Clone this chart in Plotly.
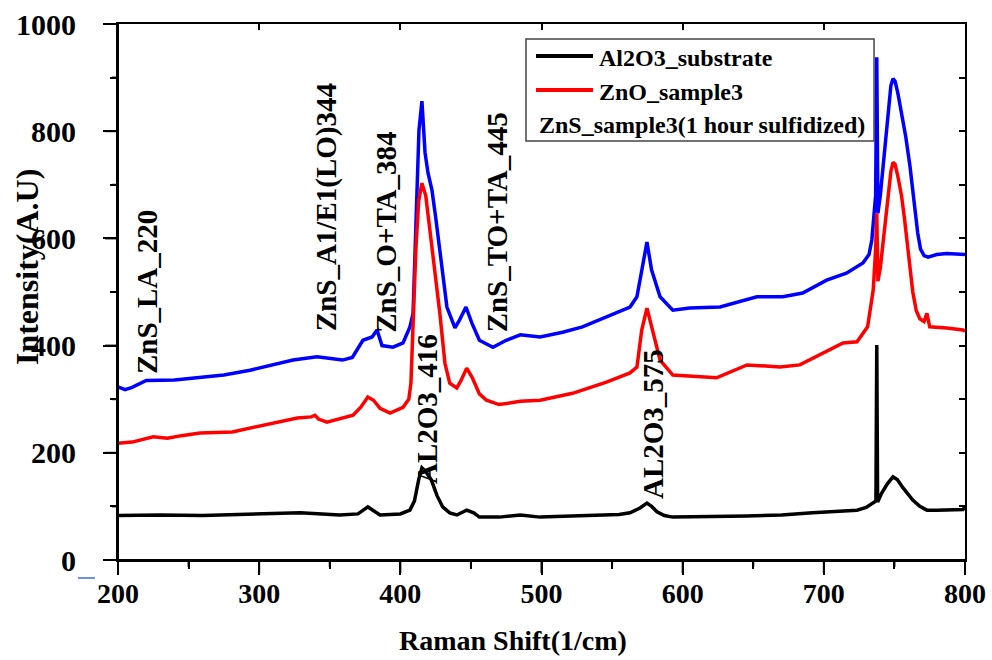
import plotly.graph_objects as go

# ---------------- data ----------------
al2o3_x = [200, 230, 260, 300, 329, 357, 370, 377, 385.6, 400, 406.8, 410, 413, 415.3, 418, 422, 426, 430,
           435, 440, 447, 452, 456, 470, 485, 499, 520, 536, 555, 562.7, 569.8, 574.7, 578, 581.8, 587, 593,
           605, 620, 645.6, 670, 692, 710, 723.5, 730, 734, 736.9, 737.5, 738.1, 741, 745, 749, 752, 756,
           763, 768, 773, 780, 790, 798.6, 800]
al2o3_y = [83, 84, 83, 85, 88, 84, 86, 99, 84, 86, 93, 110, 150, 172, 165, 149, 120, 99,
           88, 84, 93, 88, 80, 80, 84, 80, 82, 84, 85, 88, 97, 106, 100, 90, 83, 80,
           80, 81, 82, 84, 88, 90, 93, 98, 106, 110, 401, 108, 125, 142, 155, 150, 135,
           112, 100, 93, 93, 93, 94, 100]

zno_x = [200, 210, 225, 235, 245, 258, 281, 305.5, 327, 337, 339.5, 342, 348, 366.5, 372, 377, 381, 385.6,
         392.7, 401.9, 406, 407.5, 409, 411, 413, 415.3, 418, 422.4, 428, 431.6, 435, 440, 443, 447, 451,
         456, 461, 470, 485, 499, 522, 546, 562.7, 567.6, 571, 574.7, 579, 584, 593, 605, 624, 645.6, 669,
         683, 699, 713.6, 723.5, 731, 735, 736.7, 737.5, 738.3, 740, 743, 745.5, 747.5, 749, 750.5, 752.5,
         755, 757, 759, 761, 763, 765.5, 768, 771, 773, 775, 787, 798.6, 800]
zno_y = [218, 220, 230, 227, 232, 237, 239, 252, 265, 267, 270, 263, 257, 270, 285, 304, 298, 283,
         274, 285, 300, 330, 450, 580, 670, 703, 680, 584, 460, 367, 330, 321, 335, 358, 340,
         310, 298, 290, 296, 298, 311, 332, 349, 360, 429, 470, 423, 373, 345, 343, 340, 364, 360,
         364, 386, 405, 407, 435, 504, 580, 647, 520, 545, 615, 685, 725, 742, 738, 715,
         680, 640, 595, 545, 500, 465, 450, 445, 460, 435, 433, 429, 427]

zns_x = [200, 205, 210, 220, 240, 258, 275, 293.5, 310, 324, 341, 359, 366, 373.5, 380, 383.5, 387, 394.8,
         401.9, 406.8, 409, 411.8, 413.2, 415.3, 417.5, 419.6, 422.4, 425, 428, 433, 438.7, 442, 446.5,
         450.7, 456, 465.6, 475, 485, 499, 515, 529, 541, 562.7, 567.6, 572, 574.7, 578, 584, 593, 605,
         626.5, 652.6, 671, 685, 702, 716, 727.7, 732, 734, 736.7, 737.5, 738.3, 740, 743, 745.5, 747.5,
         749, 750.5, 752.5, 755, 758, 761, 764, 766.5, 768.5, 771, 773.8, 780, 787, 798.6, 800]
zns_y = [323, 318, 322, 335, 336, 341, 345, 354, 365, 373, 379, 373, 378, 410, 416, 429, 400, 397,
         405, 435, 460, 709, 802, 856, 760, 722, 690, 640, 573, 472, 433, 448, 472,
         442, 410, 397, 410, 420, 416, 425, 435, 448, 472, 491, 560, 593, 541, 491, 466, 470,
         472, 491, 491, 498, 522, 535, 554, 570, 597, 680, 938, 647, 680, 760, 840, 885,
         898, 893, 870, 835, 790, 735, 665, 610, 580, 568, 565, 570, 572, 569, 570]

series_names = ["Al2O3_substrate", "ZnO_sample3", "ZnS_sample3(1 hour sulfidized)"]

peak_labels = ["ZnS_LA_220", "ZnS_A1/E1(LO)344", "ZnS_O+TA_384", "ZnS_TO+TA_445", "AL2O3_416", "AL2O3_575"]
peak_label_x = [220.5, 347.3, 389.8, 468.5, 418.9, 579.0]
peak_label_y = [343, 423, 421, 421, 138, 110]

x_ticks = [200, 300, 400, 500, 600, 700, 800]
y_ticks = [0, 200, 400, 600, 800, 1000]
x_title = "Raman Shift(1/cm)"
y_title = "Intensity(A.U)"

FONT = "Liberation Serif"

fig = go.Figure()
fig.add_trace(go.Scatter(x=zns_x, y=zns_y, mode="lines", name=series_names[2],
                         line=dict(color="#0000ff", width=3.5), showlegend=False))
fig.add_trace(go.Scatter(x=al2o3_x, y=al2o3_y, mode="lines", name=series_names[0],
                         line=dict(color="#000000", width=3.5), showlegend=False))
fig.add_trace(go.Scatter(x=zno_x, y=zno_y, mode="lines", name=series_names[1],
                         line=dict(color="#ff0000", width=3.5), showlegend=False))
# empty helper traces so that the top/right frame axes (inside ticks) are drawn
for xa, ya in [("x2", "y"), ("x", "y2")]:
    fig.add_trace(go.Scatter(x=[None], y=[None], xaxis=xa, yaxis=ya, showlegend=False,
                             hoverinfo="skip"))

# peak annotations
for txt, xv, yv in zip(peak_labels, peak_label_x, peak_label_y):
    fig.add_annotation(x=xv, y=yv, xref="x", yref="y", text=txt, showarrow=False,
                       textangle=-90, xanchor="center", yanchor="bottom",
                       font=dict(family=FONT, size=29, color="black", weight="bold"))

# axis titles (placed like the reference, slightly off-centre)
fig.add_annotation(x=0.4663, y=-0.1493, xref="paper", yref="paper", text=x_title, showarrow=False,
                   xanchor="center", yanchor="middle",
                   font=dict(family=FONT, size=28, color="black", weight="bold"))
fig.add_annotation(x=-0.1074, y=0.5466, xref="paper", yref="paper", text=y_title, showarrow=False,
                   textangle=-90, xanchor="center", yanchor="middle",
                   font=dict(family=FONT, size=32, color="black", weight="bold"))

# ---------------- bottom / left frame with outside ticks (drawn on top) ----------------
PLOT_W, PLOT_H = 847.0, 536.0
frame_line = dict(color="black", width=2)
fig.add_shape(type="line", xref="paper", yref="paper", layer="above",
              x0=0, x1=1, y0=0, y1=0, line=frame_line)
fig.add_shape(type="line", xref="paper", yref="paper", layer="above",
              x0=0, x1=0, y0=0, y1=1, line=frame_line)
x_step = (x_ticks[1] - x_ticks[0]) / 2
n_x = int(round((x_ticks[-1] - x_ticks[0]) / x_step))
for i in range(n_x + 1):
    xv = x_ticks[0] + i * x_step
    ln = 13 if i % 2 == 0 else 7
    fig.add_shape(type="line", xref="x", yref="paper", layer="above",
                  x0=xv, x1=xv, y0=0, y1=-ln / PLOT_H, line=frame_line)
y_step = (y_ticks[1] - y_ticks[0]) / 2
n_y = int(round((y_ticks[-1] - y_ticks[0]) / y_step))
for i in range(n_y + 1):
    yv = y_ticks[0] + i * y_step
    ln = 13 if i % 2 == 0 else 6
    fig.add_shape(type="line", xref="paper", yref="y", layer="above",
                  x0=0, x1=-ln / PLOT_W, y0=yv, y1=yv, line=frame_line)

# ---------------- manual legend ----------------
L = dict(x0=0.4817, x1=0.8926, y0=0.7817, y1=0.972)
fig.add_shape(type="rect", xref="paper", yref="paper", layer="above",
              x0=L["x0"], x1=L["x1"], y0=L["y0"], y1=L["y1"],
              fillcolor="white", line=dict(color="#444444", width=1.5))
legend_line_colors = ["#000000", "#ff0000"]
legend_line_y = [0.9403, 0.8769]
for c, yy in zip(legend_line_colors, legend_line_y):
    fig.add_shape(type="line", xref="paper", yref="paper", layer="above",
                  x0=0.4935, x1=0.5608, y0=yy, y1=yy, line=dict(color=c, width=4))
legend_text_x = [0.5655, 0.5655, 0.4947]
legend_text_y = [0.9366, 0.8731, 0.8116]
for txt, xx, yy in zip(series_names, legend_text_x, legend_text_y):
    fig.add_annotation(x=xx, y=yy, xref="paper", yref="paper", text=txt, showarrow=False,
                       xanchor="left", yanchor="middle",
                       font=dict(family=FONT, size=24, color="black", weight="bold"))

# small blue underline below the "0" tick label (present in the reference)
fig.add_shape(type="line", xref="paper", yref="paper", x0=-0.0472, x1=-0.0272,
              y0=-0.0336, y1=-0.0336, line=dict(color="#3a6fd8", width=1.5))

common = dict(showgrid=False, zeroline=False, showline=True, linecolor="black", linewidth=2,
              tickcolor="black", tickwidth=2, automargin=False, layer="above traces",
              fixedrange=True)
xr = [x_ticks[0], x_ticks[-1]]
yr = [y_ticks[0], y_ticks[-1]]
xd = x_ticks[1] - x_ticks[0]
yd = y_ticks[1] - y_ticks[0]

fig.update_layout(
    width=992, height=660,
    margin=dict(l=118, r=27, t=24, b=100),
    paper_bgcolor="white", plot_bgcolor="white",
    showlegend=False, dragmode=False, hovermode=False,
    xaxis=dict(range=xr, tickmode="linear", tick0=x_ticks[0], dtick=xd,
               ticks="outside", ticklen=13, ticklabelstandoff=-6,
               minor=dict(ticks="outside", ticklen=7, dtick=xd / 2, tick0=x_ticks[0],
                          tickcolor="black", tickwidth=2, showgrid=False),
               tickfont=dict(family=FONT, size=28, color="black", weight="bold"),
               **common),
    yaxis=dict(range=yr, tickmode="linear", tick0=y_ticks[0], dtick=yd,
               ticks="outside", ticklen=13, ticklabelstandoff=21,
               minor=dict(ticks="outside", ticklen=6, dtick=yd / 2, tick0=y_ticks[0],
                          tickcolor="black", tickwidth=2, showgrid=False),
               tickfont=dict(family=FONT, size=30, color="black", weight="bold"),
               **common),
    xaxis2=dict(range=xr, overlaying="x", side="top", anchor="y", showticklabels=False,
                tickmode="linear", tick0=x_ticks[0], dtick=xd, ticks="inside", ticklen=6,
                **common),
    yaxis2=dict(range=yr, overlaying="y", side="right", anchor="x", showticklabels=False,
                tickmode="linear", tick0=y_ticks[0], dtick=yd / 2, ticks="inside", ticklen=6,
                **common),
)

fig.write_html("out.html", config={"staticPlot": True})
